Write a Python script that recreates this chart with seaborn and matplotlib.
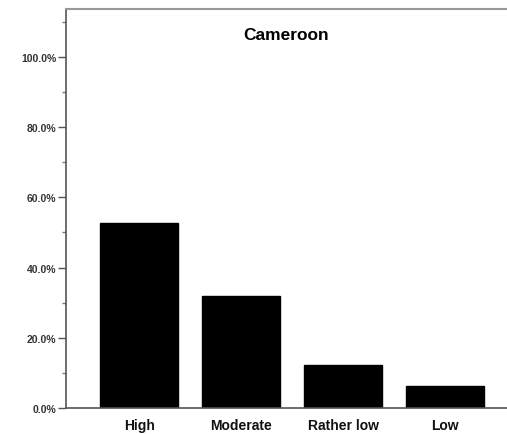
import numpy as np
import pandas as pd
import matplotlib
matplotlib.use("Agg")
import matplotlib.pyplot as plt
from matplotlib.ticker import MultipleLocator, PercentFormatter
import seaborn as sns

categories = ["High", "Moderate", "Rather low", "Low"]
shares = [52.6, 31.8, 12.2, 6.3]
country = "Cameroon"

df = pd.DataFrame({"level": categories, "share": shares})

sns.set_style("white")
plt.rcParams["font.family"] = ["Liberation Sans", "DejaVu Sans"]

fig = plt.figure(figsize=(5.07, 4.35), dpi=100)
ax = fig.add_axes([0.130, 0.060, 0.870, 0.917])

sns.barplot(data=df, x="level", y="share", color="black", saturation=1,
            width=0.765, ax=ax)
for p in ax.patches:
    p.set_edgecolor("black")

ax.set_xlim(-0.72, 3.61)
ax.set_ylim(0, 113.7)
ax.yaxis.set_major_locator(MultipleLocator(20))
ax.yaxis.set_minor_locator(MultipleLocator(10))
ax.yaxis.set_major_formatter(PercentFormatter(decimals=1))
ax.tick_params(axis="y", which="major", length=6, width=1, color="#555555",
               labelsize=7.5, labelcolor="#333333", pad=1, left=True)
ax.tick_params(axis="y", which="minor", length=3, width=1, color="#777777", left=True)
ax.tick_params(axis="x", length=0, labelsize=10, pad=7, labelcolor="#111111")
for lbl in ax.get_yticklabels():
    lbl.set_fontweight("bold")
for lbl in ax.get_xticklabels():
    lbl.set_fontweight("bold")

ax.set_xlabel("")
ax.set_ylabel("")
ax.text(0.5, 0.937, country, transform=ax.transAxes, ha="center", va="center",
        fontsize=12.5, fontweight="bold", color="black")

for side in ["left", "bottom"]:
    ax.spines[side].set_color("#555555")
    ax.spines[side].set_linewidth(1.2)
ax.spines["top"].set_color("#999999")
ax.spines["top"].set_linewidth(1.5)
ax.spines["right"].set_visible(False)

fig.savefig("out.png", dpi=100)
